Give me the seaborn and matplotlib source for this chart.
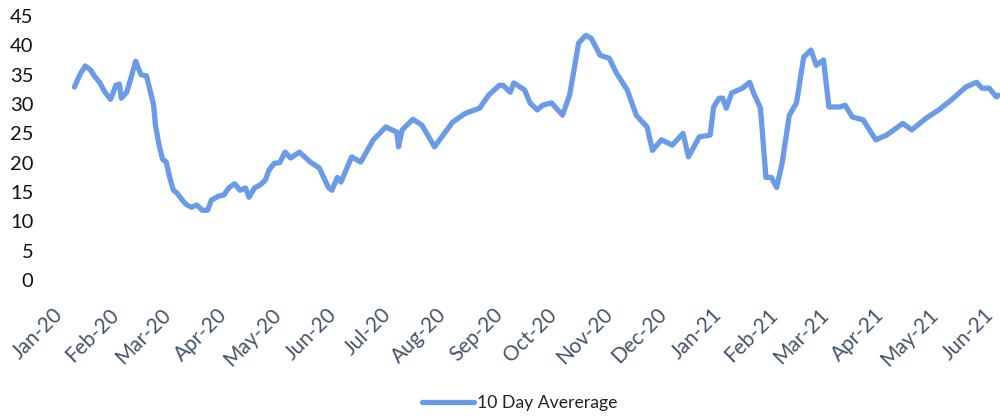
import pandas as pd
import seaborn as sns
import matplotlib.pyplot as plt
import matplotlib.dates as mdates
from matplotlib.transforms import ScaledTranslation

# 10 day average values
dates = [
    "2020-01-09", "2020-01-12", "2020-01-15", "2020-01-18", "2020-01-20", "2020-01-23",
    "2020-01-26", "2020-01-29", "2020-01-30", "2020-02-01", "2020-02-03", "2020-02-04",
    "2020-02-07", "2020-02-09", "2020-02-12", "2020-02-13", "2020-02-15", "2020-02-18",
    "2020-02-20", "2020-02-22", "2020-02-23", "2020-02-25", "2020-02-27", "2020-02-29",
    "2020-03-02", "2020-03-04", "2020-03-06", "2020-03-09", "2020-03-11", "2020-03-14",
    "2020-03-17", "2020-03-20", "2020-03-23", "2020-03-25", "2020-03-29", "2020-04-01",
    "2020-04-04", "2020-04-07", "2020-04-10", "2020-04-13", "2020-04-15", "2020-04-18",
    "2020-04-21", "2020-04-24", "2020-04-26", "2020-04-29", "2020-05-02", "2020-05-05",
    "2020-05-08", "2020-05-13", "2020-05-19", "2020-05-24", "2020-05-29", "2020-05-31",
    "2020-06-03", "2020-06-05", "2020-06-11", "2020-06-16", "2020-06-23", "2020-06-30",
    "2020-07-06", "2020-07-07", "2020-07-09", "2020-07-15", "2020-07-20", "2020-07-27",
    "2020-07-31", "2020-08-06", "2020-08-13", "2020-08-21", "2020-08-26", "2020-09-01",
    "2020-09-03", "2020-09-07", "2020-09-09", "2020-09-15", "2020-09-18", "2020-09-22",
    "2020-09-25", "2020-09-30", "2020-10-06", "2020-10-10", "2020-10-15", "2020-10-19",
    "2020-10-22", "2020-10-27", "2020-11-01", "2020-11-05", "2020-11-11", "2020-11-16",
    "2020-11-22", "2020-11-25", "2020-11-30", "2020-12-06", "2020-12-12", "2020-12-15",
    "2020-12-21", "2020-12-27", "2020-12-29", "2021-01-01", "2021-01-03", "2021-01-05",
    "2021-01-08", "2021-01-14", "2021-01-18", "2021-01-20", "2021-01-24", "2021-01-27",
    "2021-01-30", "2021-02-02", "2021-02-05", "2021-02-09", "2021-02-13", "2021-02-17",
    "2021-02-21", "2021-02-24", "2021-02-28", "2021-03-03", "2021-03-09", "2021-03-12",
    "2021-03-16", "2021-03-22", "2021-03-29", "2021-04-04", "2021-04-13", "2021-04-18",
    "2021-04-26", "2021-05-03", "2021-05-10", "2021-05-18", "2021-05-24", "2021-05-27",
    "2021-05-31", "2021-06-04", "2021-06-05",
]
values = [
    32.9, 35.0, 36.5, 35.8, 34.8, 33.7,
    32.0, 30.8, 31.5, 33.2, 33.4, 31.0,
    32.0, 34.0, 37.3, 36.5, 35.0, 34.8,
    32.4, 29.8, 26.4, 23.0, 20.6, 20.1,
    17.4, 15.3, 14.8, 13.6, 12.9, 12.4,
    12.8, 11.9, 11.9, 13.6, 14.3, 14.5,
    15.8, 16.4, 15.3, 15.7, 14.1, 15.7,
    16.2, 17.0, 18.7, 19.9, 20.0, 21.8,
    20.8, 21.8, 20.1, 19.1, 15.8, 15.3,
    17.5, 16.7, 21.0, 20.1, 23.9, 26.1,
    25.2, 22.7, 25.6, 27.4, 26.4, 22.7,
    24.4, 26.9, 28.4, 29.3, 31.5, 33.2,
    33.2, 32.0, 33.6, 32.4, 30.2, 29.0,
    29.8, 30.2, 28.1, 31.5, 40.4, 41.7,
    41.2, 38.3, 37.8, 35.3, 32.4, 28.1,
    26.1, 22.1, 23.9, 23.0, 25.0, 21.0,
    24.4, 24.7, 29.5, 31.0, 31.0, 29.3,
    31.9, 32.7, 33.7, 32.0, 29.3, 17.5,
    17.5, 15.8, 19.9, 28.1, 30.2, 38.0,
    39.2, 36.6, 37.5, 29.5, 29.5, 29.8,
    27.8, 27.3, 23.9, 24.7, 26.7, 25.6,
    27.6, 29.0, 30.7, 32.9, 33.7, 32.7,
    32.7, 31.2, 31.5,
]
series_name = "10 Day Avererage"

df = pd.DataFrame({"date": pd.to_datetime(dates), "value": values})

sns.set_style("white")
plt.rcParams['font.family'] = ['Lato', 'DejaVu Sans']

fig = plt.figure(figsize=(10, 4.17), dpi=100)
ax = fig.add_axes([0.06, 0.3285, 0.94, 0.633])

sns.lineplot(data=df, x="date", y="value", ax=ax, color="#6a9be8",
             linewidth=3.8, label=series_name)

ax.set_ylim(0, 45)
ax.set_yticks(range(0, 46, 5))
ax.set_xlim(pd.Timestamp("2020-01-01"), pd.Timestamp("2021-06-06"))
ax.xaxis.set_major_locator(mdates.MonthLocator())
ax.xaxis.set_major_formatter(mdates.DateFormatter("%b-%y"))

ax.set_xlabel("")
ax.set_ylabel("")
sns.despine(ax=ax, left=True, bottom=True)
ax.tick_params(axis="y", length=0, pad=19, labelsize=14.5, labelcolor="#111111")
ax.tick_params(axis="x", length=0, pad=14, labelsize=15, labelcolor="#44546a")
shift = ScaledTranslation(-7 / 100, -5 / 100, fig.dpi_scale_trans)
for lab in ax.get_xticklabels():
    lab.set_rotation(45)
    lab.set_ha("right")
    lab.set_rotation_mode("anchor")
    lab.set_transform(lab.get_transform() + shift)

ax.legend(loc="center", bbox_to_anchor=(0.52, 0.034), bbox_transform=fig.transFigure,
          frameon=False, fontsize=12.7, handlelength=2.95, handletextpad=0.17,
          labelcolor="#222222")

fig.savefig("out.png", dpi=100)
